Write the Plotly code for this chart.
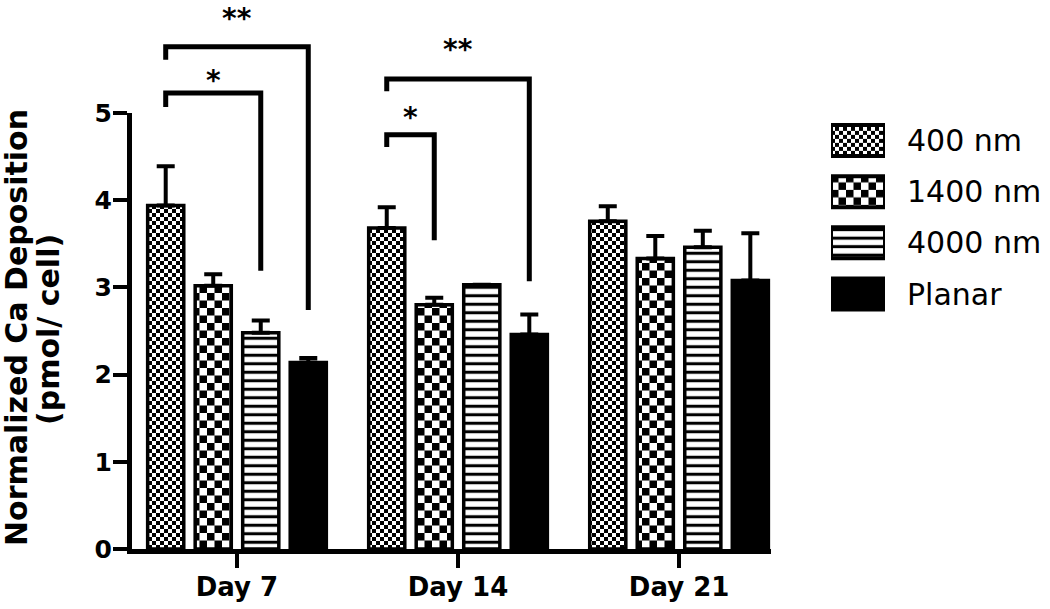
import plotly.graph_objects as go

# ---------------- data ----------------
days = ["Day 7", "Day 14", "Day 21"]
series = ["400 nm", "1400 nm", "4000 nm", "Planar"]

v400 = [3.94, 3.68, 3.76]
e400 = [0.45, 0.24, 0.17]
v1400 = [3.02, 2.80, 3.33]
e1400 = [0.13, 0.08, 0.26]
v4000 = [2.48, 3.03, 3.46]
e4000 = [0.14, 0.00, 0.19]
vplanar = [2.14, 2.46, 3.08]
eplanar = [0.05, 0.23, 0.54]

y_ticks = [0, 1, 2, 3, 4, 5]
y_title = ["Normalized Ca Deposition", "(pmol/ cell)"]

# significance brackets: group index, series from, series to
br_day = [0, 0, 1, 1]
br_from = [0, 0, 0, 0]
br_to = [2, 3, 1, 3]
br_top = [5.23, 5.76, 4.75, 5.39]
br_left_end = [5.07, 5.61, 4.61, 5.25]
br_right_end = [3.19, 2.74, 3.54, 3.07]
br_label = ["*", "**", "*", "**"]
br_label_y = [5.37, 6.08, 4.95, 5.73]

# ---------------- style ----------------
values = [v400, v1400, v4000, vplanar]
errors = [e400, e1400, e4000, eplanar]


def checker(s):
    h = s / 2
    return f"M0,0H{h}V{h}H0Z M{h},{h}H{s}V{s}H{h}Z"


pat_size = [8, 15, 8.5, 8]
pat_solid = [0.5, 0.5, 0.36, 0.5]
pat_shape = ["+", "+", "-", ""]
pat_path = [checker(8), checker(15), None, None]

BARGAP = 0.14
GROUPGAP = 0.24
FONT = "DejaVu Sans"

W, H = 1050, 609
ML, MR, MT, MB = 132, 0, 10, 60
PW = W - ML - MR
PH = H - MT - MB
px_per_unit = 87.2
main_top_frac = 5 * px_per_unit / PH
y2_max = PH / px_per_unit


def sx(px):
    return (px - ML) / PW


def sy(py):
    return (H - MB - py) / PH


xi = list(range(len(days)))

fig = go.Figure()
use_path = True
try:
    go.bar.marker.Pattern(path=pat_path[0])
except Exception:
    use_path = False

for i, (name, vals, errs) in enumerate(zip(series, values, errors)):
    pat = dict(shape=pat_shape[i], size=pat_size[i], solidity=pat_solid[i],
               fgcolor="black", bgcolor="white", fillmode="replace")
    if use_path and pat_path[i]:
        pat = dict(path=pat_path[i], size=pat_size[i], fgcolor="black", bgcolor="white",
                   fillmode="replace")
    fig.add_trace(go.Bar(
        x=xi, y=vals, name=name, showlegend=False,
        xaxis="x", yaxis="y",
        marker=dict(color="black", line=dict(color="black", width=3.5), pattern=pat),
        error_y=dict(type="data", array=errs, arrayminus=[0] * len(errs), symmetric=False,
                     color="black", thickness=4, width=9),
    ))
    # legend swatch for this series
    fig.add_trace(go.Bar(
        y=[name], x=[1], orientation="h", width=0.605, offset=-0.3025,
        xaxis="x3", yaxis="y3", showlegend=False, hoverinfo="skip",
        marker=dict(color="black", line=dict(color="black", width=4), pattern=pat),
    ))

# invisible trace to establish the overlay subplot used for brackets
fig.add_trace(go.Scatter(x=[], y=[], xaxis="x", yaxis="y2", showlegend=False, hoverinfo="skip"))

slot = (1 - BARGAP) / len(series)


def bar_center(day, s):
    return day - (1 - BARGAP) / 2 + slot * (s + 0.5)


shapes = []
annotations = []
for d, a, b, top, le, re, lab, ly in zip(br_day, br_from, br_to, br_top, br_left_end,
                                         br_right_end, br_label, br_label_y):
    x1 = bar_center(d, a)
    x2 = bar_center(d, b)
    shapes.append(dict(type="path", xref="x", yref="y2",
                       path=f"M{x1},{le} L{x1},{top} L{x2},{top} L{x2},{re}",
                       line=dict(color="black", width=5)))
    annotations.append(dict(x=(x1 + x2) / 2, y=ly, xref="x", yref="y2", text=lab,
                            showarrow=False, font=dict(family=FONT, size=28, color="black", weight="bold")))

for txt, cx, cy in zip(y_title, [16, 48], [328, 330]):
    annotations.append(dict(x=sx(cx), y=sy(cy), xref="paper", yref="paper",
                            xanchor="center", yanchor="middle",
                            text=txt, textangle=-90, showarrow=False,
                            font=dict(family=FONT, size=30, color="black", weight="bold")))

x_left, x_right = -0.475, 2.416
fig.update_layout(
    template="none",
    width=W, height=H,
    margin=dict(l=ML, r=MR, t=MT, b=MB, autoexpand=False),
    paper_bgcolor="white", plot_bgcolor="rgba(0,0,0,0)",
    barmode="group", bargap=BARGAP, bargroupgap=GROUPGAP,
    shapes=shapes, annotations=annotations,
    xaxis=dict(domain=[0, 639 / PW], range=[x_left, x_right], anchor="y", automargin=False,
               tickvals=xi, ticktext=days, showgrid=False, zeroline=False,
               showline=True, linecolor="black", linewidth=5,
               ticks="outside", ticklen=14, tickwidth=4, tickcolor="black",
               ticklabelstandoff=-3,
               tickfont=dict(family=FONT, size=26, color="black", weight="bold")),
    yaxis=dict(domain=[0, main_top_frac], range=[0, 5], anchor="x", automargin=False,
               tickvals=y_ticks, showgrid=False, zeroline=False,
               showline=True, linecolor="black", linewidth=5,
               ticks="outside", ticklen=14, tickwidth=4, tickcolor="black",
               ticklabelstandoff=-4,
               tickfont=dict(family=FONT, size=25, color="black", weight="bold")),
    yaxis2=dict(domain=[0, 1], range=[0, y2_max], anchor="x", visible=False, automargin=False),
    xaxis3=dict(domain=[sx(831), sx(885)], range=[0, 1], anchor="y3",
                visible=False, automargin=False),
    yaxis3=dict(domain=[sy(319.6), sy(114.9)], anchor="x3",
                type="category", categoryorder="array", categoryarray=series,
                autorange="reversed", side="right", automargin=False,
                showline=False, showgrid=False, zeroline=False, ticks="",
                ticklabelstandoff=21,
                tickfont=dict(family=FONT, size=30, color="black")),
)

fig.write_html("out.html", config={"displayModeBar": False},
               post_script="document.body.style.margin='0';document.body.style.overflow='hidden';")
